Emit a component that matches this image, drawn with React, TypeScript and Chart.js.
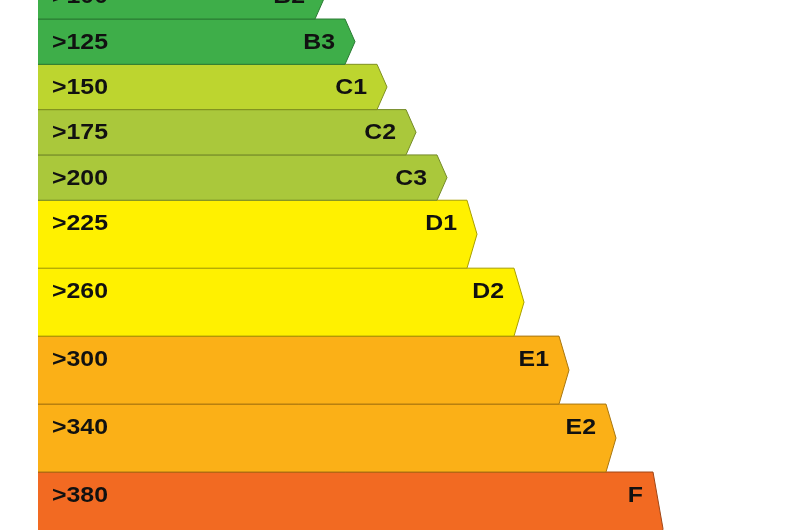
import React, { useEffect, useRef } from "react";
import { Chart, registerables } from "chart.js";

Chart.register(...registerables);

// Energy rating bands (BER scale), top to bottom
const ratings = ["B2", "B3", "C1", "C2", "C3", "D1", "D2", "E1", "E2", "F"];
const thresholds = [">100", ">125", ">150", ">175", ">200", ">225", ">260", ">300", ">340", ">380"];
// length of each band's body (before the arrow tip)
const bandLengths = [277, 307, 339, 368, 399, 429, 476, 521, 568, 615];
// relative height of each band
const bandHeights = [2, 2, 2, 2, 2, 3, 3, 3, 3, 5];
const bandColors = [
  "#3eae49",
  "#3eae49",
  "#bdd52f",
  "#aac83b",
  "#aac83b",
  "#fff100",
  "#fff100",
  "#fbb017",
  "#fbb017",
  "#f26a22",
];
const borderColors = [
  "#2a7a33",
  "#2a7a33",
  "#7f9020",
  "#748a28",
  "#748a28",
  "#a89e00",
  "#a89e00",
  "#a8760f",
  "#a8760f",
  "#a04616",
];

const ARROW_DEPTH = 10;
const LABEL_PAD = 10;
const TEXT_STRETCH = 1.13;

export default function App() {
  const ref = useRef<HTMLCanvasElement | null>(null);

  useEffect(() => {
    document.body.style.margin = "0";
    const canvas = ref.current;
    if (!canvas) return;

    const tops: number[] = [];
    let acc = 0;
    for (const h of bandHeights) {
      tops.push(acc);
      acc += h;
    }

    const datasets = ratings.map((r, i) => {
      const top = tops[i];
      const bot = top + bandHeights[i];
      const mid = (top + bot) / 2;
      const len = bandLengths[i];
      return {
        label: r,
        data: [
          { x: 0, y: top },
          { x: len, y: top },
          { x: len + ARROW_DEPTH, y: mid },
          { x: len, y: bot },
          { x: 0, y: bot },
        ],
        showLine: true,
        fill: "shape",
        backgroundColor: bandColors[i],
        borderColor: borderColors[i],
        borderWidth: 1,
        pointRadius: 0,
        pointHoverRadius: 0,
        tension: 0,
      };
    });

    const drawText = (ctx: any, text: string, x: number, y: number, align: string) => {
      ctx.save();
      ctx.translate(x, y);
      ctx.scale(TEXT_STRETCH, 1);
      ctx.textAlign = align;
      ctx.fillText(text, 0, 0);
      ctx.restore();
    };

    const labelPlugin = {
      id: "bandLabels",
      afterDatasetsDraw(chart: any) {
        const ctx = chart.ctx;
        const xs = chart.scales.x;
        const ys = chart.scales.y;
        ctx.save();
        ctx.font = "bold 22px 'Liberation Sans', Arial, sans-serif";
        ctx.fillStyle = "#111111";
        ctx.textBaseline = "alphabetic";
        ratings.forEach((r, i) => {
          const y = ys.getPixelForValue(tops[i] + 1) + 7;
          drawText(ctx, thresholds[i], xs.getPixelForValue(14), y, "left");
          drawText(ctx, r, xs.getPixelForValue(bandLengths[i] - LABEL_PAD), y, "right");
        });
        ctx.restore();
      },
    };

    const chart = new Chart(canvas, {
      type: "scatter",
      data: { datasets: datasets as any },
      options: {
        animation: false,
        responsive: false,
        layout: { padding: 0 },
        plugins: {
          legend: { display: false },
          tooltip: { enabled: false },
          title: { display: false },
        },
        events: [],
        scales: {
          x: { type: "linear", min: -38, max: 757, display: false },
          y: { type: "linear", min: 1.16, max: 24.56, reverse: true, display: false },
        },
      },
      plugins: [labelPlugin],
    });

    return () => chart.destroy();
  }, []);

  return (
    <div style={{ width: 795, height: 530, background: "#ffffff" }}>
      <canvas ref={ref} width={795} height={530} style={{ display: "block" }} />
    </div>
  );
}
